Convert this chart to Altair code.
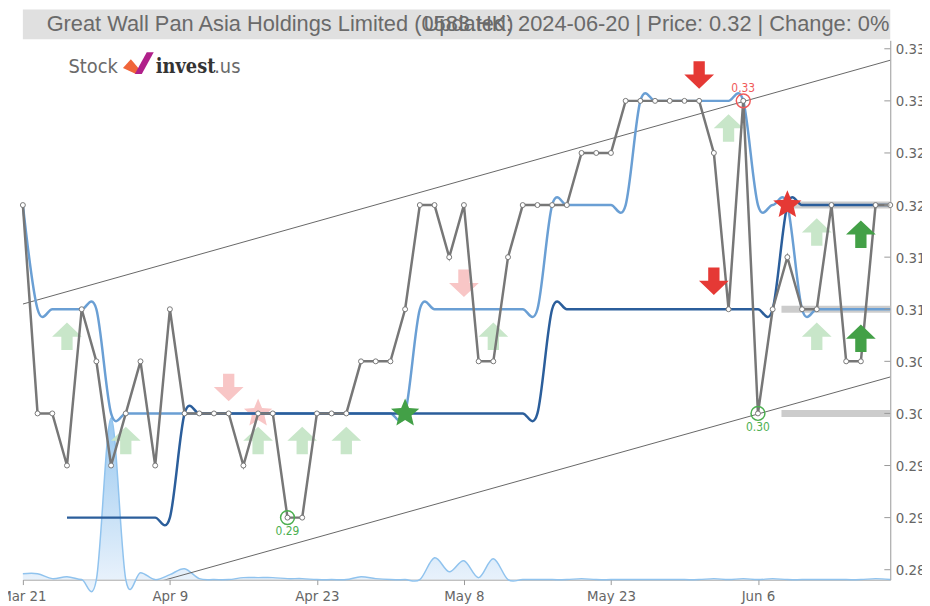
import altair as alt
import pandas as pd

# ---------------- data ----------------
dates = ["Mar 21","Mar 22","Mar 25","Mar 26","Mar 27","Mar 28","Apr 2","Apr 3","Apr 5","Apr 8",
         "Apr 9","Apr 10","Apr 11","Apr 12","Apr 15","Apr 16","Apr 17","Apr 18","Apr 19","Apr 22",
         "Apr 23","Apr 24","Apr 25","Apr 26","Apr 29","Apr 30","May 2","May 3","May 6","May 7",
         "May 8","May 9","May 10","May 13","May 14","May 16","May 17","May 20","May 21","May 22",
         "May 23","May 24","May 27","May 28","May 29","May 30","May 31","Jun 3","Jun 4","Jun 5",
         "Jun 6","Jun 7","Jun 11","Jun 12","Jun 13","Jun 14","Jun 17","Jun 18","Jun 19","Jun 20"]

prices = [0.320, 0.300, 0.300, 0.295, 0.310, 0.305, 0.295, 0.300, 0.305, 0.295,
          0.310, 0.300, 0.300, 0.300, 0.300, 0.295, 0.300, 0.300, 0.290, 0.290,
          0.300, 0.300, 0.300, 0.305, 0.305, 0.305, 0.310, 0.320, 0.320, 0.315,
          0.320, 0.305, 0.305, 0.315, 0.320, 0.320, 0.320, 0.320, 0.325, 0.325,
          0.325, 0.330, 0.330, 0.330, 0.330, 0.330, 0.330, 0.325, 0.310, 0.330,
          0.300, 0.310, 0.315, 0.310, 0.310, 0.320, 0.305, 0.305, 0.320, 0.320]

sma_short = ([0.32] + [0.31] * 5 + [0.30] * 21 + [0.31] * 9 + [0.32] * 6 +
             [0.33] * 8 + [0.32] * 3 + [0.31] * 7)
sma_long = ([None] * 3 + [0.29] * 8 + [0.30] * 25 + [0.31] * 16 + [0.32] * 8)

volume = [6, 6, 1, 3, 0, 0, 163, 0, 7, 0,
          5, 11, 1, 0, 0, 2, 2, 2, 1, 1,
          0, 0, 0, 3, 1, 0, 0, 0, 22, 8,
          19, 2, 21, 0, 0, 0, 0, 0, 1, 0,
          0, 0, 0, 0, 0, 0, 0, 1, 0, 1,
          0, 1, 0, 0, 0, 0, 0, 0, 1, 0]

channel_x = [0, 59]
channel_upper = [0.3105, 0.3339]
channel_lower = [0.2802, 0.3035]

band_levels = [0.32, 0.31, 0.30]
band_start = [51.6, 51.6, 51.6]
band_end = [59, 59, 59]

y_ticks = [0.285, 0.29, 0.295, 0.30, 0.305, 0.31, 0.315, 0.32, 0.325, 0.33, 0.335]
x_ticks = [0, 10, 20, 30, 40, 50]

faint_up_i = [3, 7, 16, 19, 22, 32, 48, 54, 54]
faint_up_v = [0.3073, 0.2973, 0.2973, 0.2973, 0.2973, 0.3073, 0.3273, 0.3173, 0.3073]
strong_up_i = [57, 57]
strong_up_v = [0.3171, 0.3071]
faint_down_i = [14, 30]
faint_down_v = [0.3026, 0.3126]
strong_down_i = [46, 47]
strong_down_v = [0.3326, 0.3128]

star_i = [16, 26, 52]
star_v = [0.30, 0.30, 0.32]
star_kind = ["faint_sell", "buy", "sell"]

high_i = [49]
high_v = [0.33]
low_i = [18, 50]
low_v = [0.29, 0.30]

title_left = "Great Wall Pan Asia Holdings Limited (0583.HK)"
title_right = "Updated: 2024-06-20 | Price: 0.32 | Change: 0%"

# ---------------- frames ----------------
main = pd.DataFrame({"i": list(range(len(prices))), "d": dates, "p": prices,
                     "s": sma_short, "l": sma_long, "vol": volume})
longdf = main.dropna(subset=["l"])
chan = pd.DataFrame({"i": channel_x, "u": channel_upper, "lo": channel_lower})
bands = pd.DataFrame({"v": band_levels, "s": band_start, "e": band_end})
ticks = pd.DataFrame({"v": y_ticks})
fu = pd.DataFrame({"i": faint_up_i, "v": faint_up_v})
su = pd.DataFrame({"i": strong_up_i, "v": strong_up_v})
fd = pd.DataFrame({"i": faint_down_i, "v": faint_down_v})
sd = pd.DataFrame({"i": strong_down_i, "v": strong_down_v})
stars = pd.DataFrame({"i": star_i, "v": star_v, "k": star_kind})
highs = pd.DataFrame({"i": high_i, "v": high_v, "t": [f"{x:.2f}" for x in high_v]})
lows = pd.DataFrame({"i": low_i, "v": low_v, "t": [f"{x:.2f}" for x in low_v]})

W, H = 875, 544
YDOM = [0.28405, 0.33581]
FONT = "DejaVu Sans Condensed"
TFONT = "Liberation Sans"

XS = alt.Scale(domain=[0, 59], nice=False, zero=False)
YS = alt.Scale(domain=YDOM, nice=False, zero=False)

label_expr = "[" + ",".join(f"'{d}'" for d in dates) + "][datum.value]"
XAXIS = alt.Axis(values=x_ticks, labelExpr=label_expr, grid=False, title=None,
                 domainColor="#999", tickColor="#999", tickSize=5, labelFlush=False,
                 labelColor="#666", labelFont=FONT, labelFontSize=15, labelPadding=4)

def X(f="i"):
    return alt.X(f"{f}:Q", scale=XS, axis=XAXIS)

def Y(f):
    return alt.Y(f"{f}:Q", scale=YS, axis=None)

UP = "M0,-1 L1,-0.05 L0.38,-0.05 L0.38,0.85 L-0.38,0.85 L-0.38,-0.05 L-1,-0.05 Z"
DOWN = "M0,1 L1,0.05 L0.38,0.05 L0.38,-0.85 L-0.38,-0.85 L-0.38,0.05 L-1,0.05 Z"
STAR = ("M0,-1 L0.265,-0.364 L0.951,-0.309 L0.428,0.139 L0.588,0.809 L0,0.45 "
        "L-0.588,0.809 L-0.428,0.139 L-0.951,-0.309 L-0.265,-0.364 Z")

# volume area (own y scale)
vol_layer = alt.Chart(main).mark_area(
    interpolate="cardinal",
    line={"color": "#90c3ee", "strokeWidth": 1.5},
    color=alt.Gradient(gradient="linear",
                       stops=[alt.GradientStop(color="#e6f0fb", offset=0),
                              alt.GradientStop(color="#6eb1e9", offset=1)],
                       x1=1, x2=1, y1=1, y2=0),
).encode(x=X(), y=alt.Y("vol:Q", scale=alt.Scale(domain=[0, 544], nice=False), axis=None))

upper = alt.Chart(chan).mark_line(color="#666", strokeWidth=1, clip=True).encode(x=X(), y=Y("u"))
lower = alt.Chart(chan).mark_line(color="#666", strokeWidth=1, clip=True).encode(x=X(), y=Y("lo"))

band_layer = alt.Chart(bands).mark_rule(color="#cccccc", strokeWidth=7).encode(
    x=X("s"), x2="e:Q", y=Y("v"))

faint_up = alt.Chart(fu).mark_point(shape=UP, filled=True, size=900, color="#c8e6c9", opacity=1).encode(x=X(), y=Y("v"))
faint_down = alt.Chart(fd).mark_point(shape=DOWN, filled=True, size=900, color="#f8c6c6", opacity=1).encode(x=X(), y=Y("v"))
faint_star = alt.Chart(stars[stars.k == "faint_sell"]).mark_point(shape=STAR, filled=True, size=900, color="#f8c6c6", opacity=1).encode(x=X(), y=Y("v"))

short_line = alt.Chart(main).mark_line(interpolate="cardinal", color="#6a9fd4", strokeWidth=2.5).encode(x=X(), y=Y("s"))
long_line = alt.Chart(longdf).mark_line(interpolate="cardinal", color="#2b5e9b", strokeWidth=2.5).encode(x=X(), y=Y("l"))

price_line = alt.Chart(main).mark_line(color="#777777", strokeWidth=2.5).encode(
    x=X(),
    y=alt.Y("p:Q", scale=YS,
            axis=alt.Axis(orient="right", values=y_ticks, grid=False, title=None, ticks=False,
                          labelExpr="substring(format(datum.value, '.3f'), 0, 4)",
                          domainColor="#999", labelColor="#666", labelFont=FONT,
                          labelFontSize=15, labelPadding=5)),
)
price_pts = alt.Chart(main).mark_point(shape="circle", filled=True, size=25, fill="white",
                                       stroke="#777777", strokeWidth=1, opacity=1).encode(x=X(), y=Y("p"))

tick_layer = alt.Chart(ticks).mark_rule(color="#999", strokeWidth=1).encode(
    x=alt.value(W - 6), x2=alt.value(W), y=Y("v"))

strong_up = alt.Chart(su).mark_point(shape=UP, filled=True, size=900, color="#43a047", opacity=1).encode(x=X(), y=Y("v"))
strong_down = alt.Chart(sd).mark_point(shape=DOWN, filled=True, size=900, color="#e53935", opacity=1).encode(x=X(), y=Y("v"))
buy_star = alt.Chart(stars[stars.k == "buy"]).mark_point(shape=STAR, filled=True, size=900, color="#43a047", opacity=1).encode(x=X(), y=Y("v"))
sell_star = alt.Chart(stars[stars.k == "sell"]).mark_point(shape=STAR, filled=True, size=900, color="#e53935", opacity=1).encode(x=X(), y=Y("v"))

high_c = alt.Chart(highs).mark_point(shape="circle", size=196, color="#f05a5a", strokeWidth=1.5, opacity=1).encode(x=X(), y=Y("v"))
high_t = alt.Chart(highs).mark_text(color="#f05a5a", fontSize=12, dy=-13, font=FONT).encode(x=X(), y=Y("v"), text="t:N")
low_c = alt.Chart(lows).mark_point(shape="circle", size=196, color="#4caf50", strokeWidth=1.5, opacity=1).encode(x=X(), y=Y("v"))
low_t = alt.Chart(lows).mark_text(color="#4caf50", fontSize=12, dy=14, font=FONT).encode(x=X(), y=Y("v"), text="t:N")

one = pd.DataFrame({"t": [""]})
title_bar = alt.Chart(one).mark_rect(color="#e0e0e0").encode(
    x=alt.value(0), x2=alt.value(W), y=alt.value(-31), y2=alt.value(-1))
tl = alt.Chart(pd.DataFrame({"t": [title_left]})).mark_text(
    align="left", baseline="middle", fontSize=22, font=TFONT, color="#6a6a6a").encode(
    x=alt.value(24), y=alt.value(-16), text="t:N")
tr = alt.Chart(pd.DataFrame({"t": [title_right]})).mark_text(
    align="right", baseline="middle", fontSize=22, font=TFONT, color="#6a6a6a").encode(
    x=alt.value(874), y=alt.value(-16), text="t:N")

logo_stock = alt.Chart(pd.DataFrame({"t": ["Stock"]})).mark_text(
    align="left", baseline="alphabetic", fontSize=20, font=FONT, color="#6a6a6a").encode(
    x=alt.value(46), y=alt.value(33), text="t:N")
logo_c1 = alt.Chart(one).mark_point(
    shape="M-0.94,0.31 L-0.44,-0.25 L0.19,0.5 L-0.12,0.69 Z", filled=True, size=1024,
    color="#f0653a", opacity=1).encode(x=alt.value(116), y=alt.value(23))
logo_c2 = alt.Chart(one).mark_point(
    shape="M-0.19,0.69 L0.56,-0.69 L1,-0.69 L0.25,0.69 Z", filled=True, size=1024,
    color="#b0208a", opacity=1).encode(x=alt.value(116), y=alt.value(23))
logo_inv = alt.Chart(pd.DataFrame({"t": ["invest"]})).mark_text(
    align="left", baseline="alphabetic", fontSize=20, font="DejaVu Serif Condensed", fontWeight="bold",
    color="#333").encode(x=alt.value(134), y=alt.value(33), text="t:N")
logo_us = alt.Chart(pd.DataFrame({"t": [".us"]})).mark_text(
    align="left", baseline="alphabetic", fontSize=20, font=FONT, color="#6a6a6a").encode(
    x=alt.value(193), y=alt.value(33), text="t:N")

chart = alt.layer(
    vol_layer, upper, lower, band_layer, faint_up, faint_down, faint_star,
    short_line, long_line, price_line, price_pts, tick_layer,
    strong_up, strong_down, buy_star, sell_star,
    high_c, high_t, low_c, low_t,
    title_bar, tl, tr, logo_stock, logo_c1, logo_c2, logo_inv, logo_us,
).resolve_scale(y="independent").properties(
    width=W, height=H,
    autosize=alt.AutoSizeParams(type="none"),
    padding={"left": 15, "top": 30, "right": 32, "bottom": 24},
).configure_view(stroke=None)

chart.save("out.html", embed_options={"renderer": "svg", "actions": False})
